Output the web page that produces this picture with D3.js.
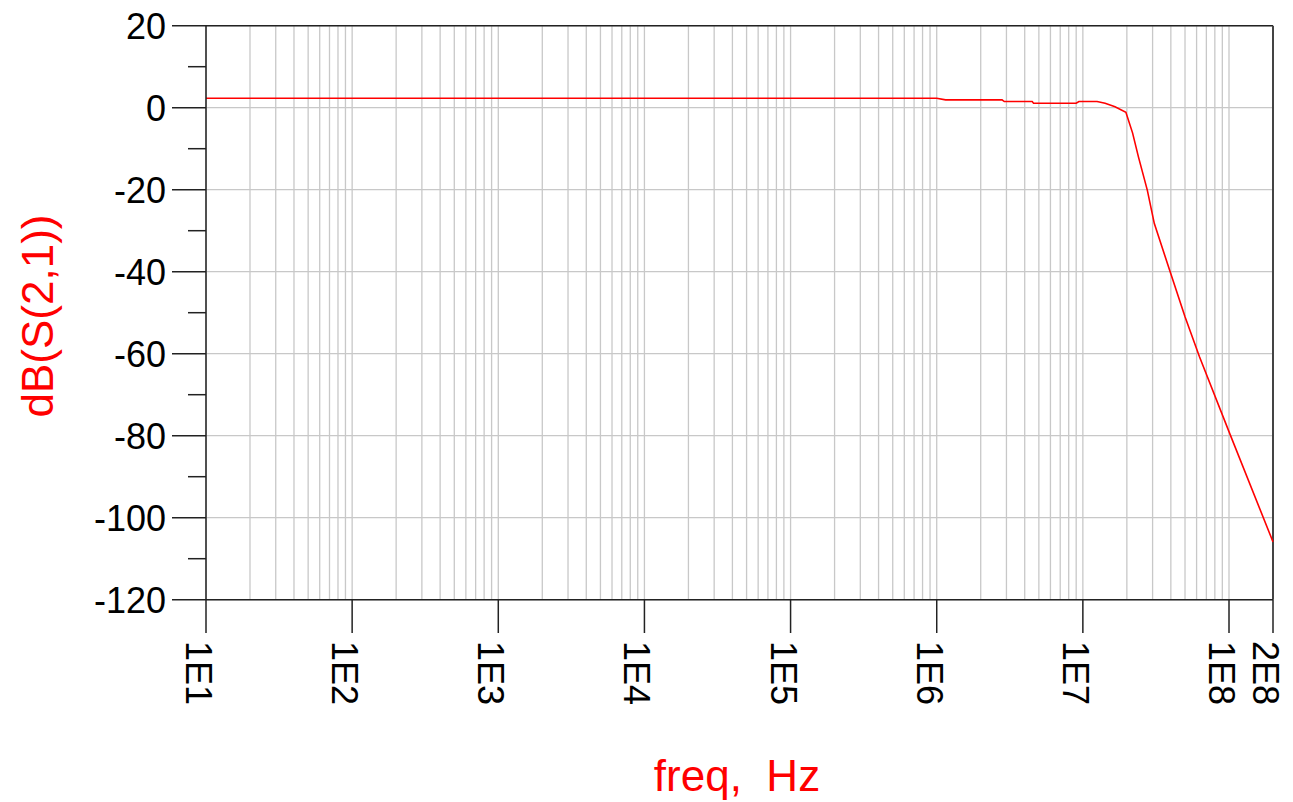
<!DOCTYPE html>
<html>
<head>
<meta charset="utf-8">
<script src="https://cdn.jsdelivr.net/npm/d3@7"></script>
<style>
  html, body { margin: 0; padding: 0; background: #fff; }
  svg { display: block; font-family: "Liberation Sans", Arial, sans-serif; }
</style>
</head>
<body>
<svg id="chart" width="1293" height="802"></svg>
<script>
// ---- data ----
const freqHz = [10, 1e6, 1.15e6, 2.8e6, 2.9e6, 4.5e6, 4.6e6, 9e6, 9.4e6, 1.25e7, 1.42e7, 1.66e7, 1.97e7,
                2.19e7, 2.4e7, 2.76e7, 3.08e7, 3.92e7, 5.0e7, 6.27e7, 1.02e8, 2e8];
const dBS21  = [2.3, 2.3, 1.9, 1.9, 1.5, 1.5, 1.1, 1.1, 1.5, 1.5, 1.07, 0.24, -1.1,
                -6.2, -12.0, -20.1, -28.2, -39.6, -51.0, -60.7, -79.8, -105.9];
const xTickValues = [1e1, 1e2, 1e3, 1e4, 1e5, 1e6, 1e7, 1e8, 2e8];
const xTickLabels = ["1E1", "1E2", "1E3", "1E4", "1E5", "1E6", "1E7", "1E8", "2E8"];
const yMajorTicks = [20, 0, -20, -40, -60, -80, -100, -120];
const yMinorTicks = [10, -10, -30, -50, -70, -90, -110];
const xTitle = "freq,  Hz";
const yTitle = "dB(S(2,1))";

// ---- layout ----
const svg = d3.select("#chart");
const L = 206, R = 1273, T = 25.7, B = 599.7;

const x = d3.scaleLog().domain([10, 2e8]).range([L, R]);
const y = d3.scaleLinear().domain([-120, 20]).range([B, T]);

// grid lines (vertical: 1..9 x 10^k)
const vGrid = [];
for (let k = 1; k <= 7; k++) for (let m = 1; m <= 9; m++) vGrid.push(m * Math.pow(10, k));
vGrid.push(1e8);

const grid = svg.append("g");
grid.selectAll("line.v").data(vGrid).enter().append("line")
  .attr("x1", d => x(d)).attr("x2", d => x(d))
  .attr("y1", T).attr("y2", B)
  .attr("stroke", "#c8c8c8").attr("stroke-width", 1.3);
grid.selectAll("line.h").data(yMajorTicks).enter().append("line")
  .attr("x1", L).attr("x2", R)
  .attr("y1", d => y(d)).attr("y2", d => y(d))
  .attr("stroke", "#c8c8c8").attr("stroke-width", 1.3);

// frame
svg.append("line").attr("x1", L).attr("x2", R).attr("y1", T).attr("y2", T)
  .attr("stroke", "#222").attr("stroke-width", 1.5);
svg.append("line").attr("x1", R).attr("x2", R).attr("y1", T).attr("y2", B)
  .attr("stroke", "#444").attr("stroke-width", 2);

// data line
const line = d3.line().x((d, i) => x(freqHz[i])).y(d => y(d));
svg.append("path").datum(dBS21)
  .attr("d", line)
  .attr("fill", "none")
  .attr("stroke", "#ff0000")
  .attr("stroke-width", 1.6);

// y axis
const yAxis = svg.append("g");
yAxis.append("line").attr("x1", L).attr("x2", L).attr("y1", T).attr("y2", B)
  .attr("stroke", "#222").attr("stroke-width", 1.5);
yAxis.selectAll("line.maj").data(yMajorTicks).enter().append("line")
  .attr("x1", 172).attr("x2", L)
  .attr("y1", d => y(d)).attr("y2", d => y(d))
  .attr("stroke", "#222").attr("stroke-width", 1.5);
yAxis.selectAll("line.min").data(yMinorTicks).enter().append("line")
  .attr("x1", 188).attr("x2", L)
  .attr("y1", d => y(d)).attr("y2", d => y(d))
  .attr("stroke", "#222").attr("stroke-width", 1.5);
yAxis.selectAll("text").data(yMajorTicks).enter().append("text")
  .attr("x", 166).attr("y", d => y(d)).attr("dy", "0.36em")
  .attr("text-anchor", "end")
  .attr("font-size", 36).attr("fill", "#000")
  .text(d => d);

// x axis
const xAxis = svg.append("g");
xAxis.append("line").attr("x1", L).attr("x2", R).attr("y1", B).attr("y2", B)
  .attr("stroke", "#222").attr("stroke-width", 1.5);
xAxis.selectAll("line.t").data(xTickValues).enter().append("line")
  .attr("x1", d => x(d)).attr("x2", d => x(d))
  .attr("y1", B).attr("y2", 633)
  .attr("stroke", "#222").attr("stroke-width", 1.5);
xAxis.selectAll("text").data(xTickValues).enter().append("text")
  .attr("transform", d => `translate(${x(d)},641) rotate(90)`)
  .attr("x", 0).attr("y", 20)
  .attr("text-anchor", "start")
  .attr("font-size", 36).attr("fill", "#000")
  .text((d, i) => xTickLabels[i]);

// titles
svg.append("text")
  .attr("x", 737).attr("y", 791)
  .attr("text-anchor", "middle")
  .attr("font-size", 44).attr("fill", "#ff0000")
  .style("white-space", "pre")
  .text(xTitle);
svg.append("text")
  .attr("transform", "translate(53,316) rotate(-90)")
  .attr("text-anchor", "middle")
  .attr("font-size", 44).attr("fill", "#ff0000")
  .text(yTitle);
</script>
</body>
</html>
